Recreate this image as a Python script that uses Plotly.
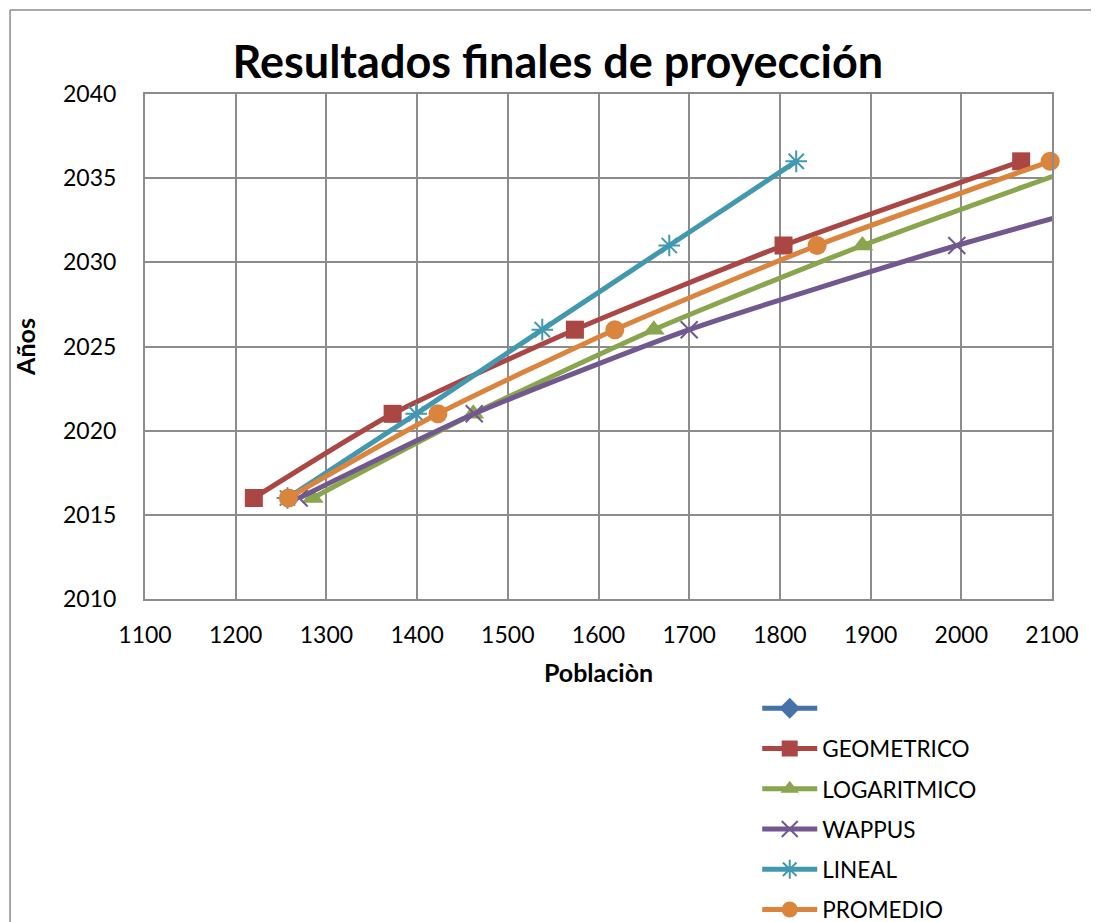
import plotly.graph_objects as go

years = [2016, 2021, 2026, 2031, 2036]
geometrico = [1220, 1373, 1574, 1804, 2066]
logaritmico = [1285, 1462, 1661, 1891, 2147]
wappus = [1270, 1463, 1700, 1995, 2330]
lineal = [1257, 1399, 1538, 1678, 1818]
promedio = [1258, 1423, 1618, 1841, 2098]
blank_x = [None]
blank_y = [None]

x_ticks = [1100, 1200, 1300, 1400, 1500, 1600, 1700, 1800, 1900, 2000, 2100]
y_ticks = [2010, 2015, 2020, 2025, 2030, 2035, 2040]

FONT = "Lato, Carlito, Calibri, sans-serif"

series = [
    (" ", blank_x, blank_y, "#4572A7", dict(symbol="diamond", size=16)),
    ("GEOMETRICO", geometrico, years, "#AA4643", dict(symbol="square", size=18)),
    ("LOGARITMICO", logaritmico, years, "#89A54E", dict(symbol="triangle-up", size=19)),
    ("WAPPUS", wappus, years, "#71588F", dict(symbol="x-thin-open", size=17, line=dict(width=2))),
    ("LINEAL", lineal, years, "#4198AF", dict(symbol="asterisk-open", size=18, line=dict(width=2))),
    ("PROMEDIO", promedio, years, "#DB843D", dict(symbol="circle", size=19)),
]

fig = go.Figure()
for i, (name, xs, ys, color, mk) in enumerate(series):
    marker = dict(color=color, symbol=mk["symbol"], size=mk["size"])
    if "line" in mk:
        marker["line"] = dict(color=color, width=mk["line"]["width"])
    fig.add_trace(go.Scatter(
        x=xs, y=ys, name=name, mode="lines+markers",
        line=dict(color=color, width=5, shape="spline", smoothing=0.6),
        marker=marker, legendgroup=f"g{i}", cliponaxis=False,
    ))

axis_common = dict(
    showgrid=True, gridcolor="#8C8C8C", gridwidth=2,
    showline=True, linecolor="#8C8C8C", linewidth=2, mirror=True,
    zeroline=False, ticks="", tickfont=dict(family=FONT, size=23, color="#000"),
    automargin=False,
)

fig.update_layout(
    width=1091, height=914,
    paper_bgcolor="white", plot_bgcolor="white",
    margin=dict(l=137, r=47, t=86, b=323, autoexpand=False),
    title=dict(text="<b>Resultados finales de proyección</b>", x=0.504, xanchor="center",
               y=0.941, yanchor="middle", font=dict(family=FONT, size=45, color="#000")),
    xaxis=dict(range=[1100, 2100], tickvals=x_ticks, ticklabelstandoff=14, **axis_common,
               title=dict(text="<b>Poblaciòn</b>", font=dict(family=FONT, size=25, color="#000"), standoff=20)),
    yaxis=dict(range=[2010, 2040], tickvals=y_ticks, ticklabelstandoff=22, **axis_common,
               title=dict(text="<b>Años</b>", font=dict(family=FONT, size=25, color="#000"), standoff=20)),
    legend=dict(x=0.675, xanchor="left", y=0.257, yref="container", yanchor="top",
                font=dict(family=FONT, size=22.5, color="#000"),
                itemwidth=55, tracegroupgap=8, traceorder="grouped",
                bgcolor="rgba(0,0,0,0)"),
    shapes=[
        dict(type="line", xref="paper", yref="paper", x0=-0.1488, x1=1.2, y0=1.1663, y1=1.1663,
             line=dict(color="#8C8C8C", width=1.5)),
        dict(type="line", xref="paper", yref="paper", x0=-0.1488, x1=-0.1488, y0=1.1663, y1=-0.7,
             line=dict(color="#8C8C8C", width=1.5)),
    ],
)

fig.write_html("out.html")
